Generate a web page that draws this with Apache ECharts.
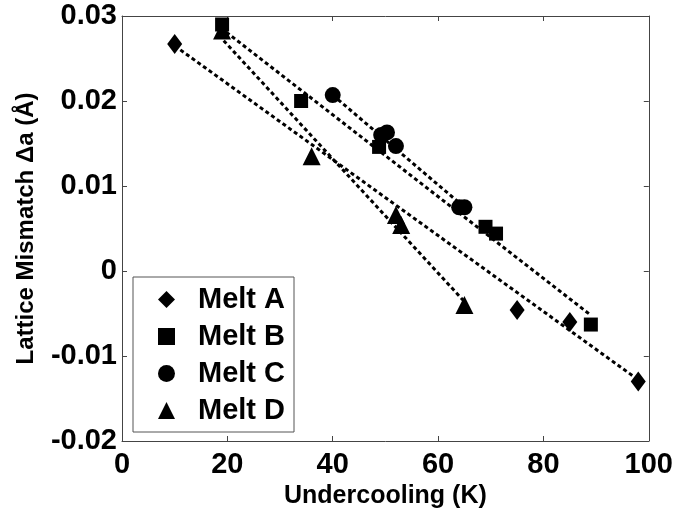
<!DOCTYPE html>
<html>
<head>
<meta charset="utf-8">
<script src="https://cdn.jsdelivr.net/npm/echarts@6/dist/echarts.min.js"></script>
<style>
  html, body { margin: 0; padding: 0; background: #fff; }
  #chart { width: 676px; height: 514px; }
</style>
</head>
<body>
<div id="chart"></div>
<script>
// measured points [undercooling K, lattice mismatch]
var meltA = [[10, 0.0267], [75, -0.0046], [85, -0.0060], [98, -0.0130]]
var meltB = [[19, 0.0290], [34, 0.0200], [48.8, 0.0146], [69, 0.0052], [71, 0.0044], [89, -0.0063]]
var meltC = [[40, 0.0207], [49.2, 0.0160], [50.3, 0.0163], [52, 0.0147], [64, 0.0075], [65, 0.0075]]
var meltD = [[19, 0.0283], [36, 0.0135], [52, 0.0066], [53, 0.0054], [65, -0.0040]]

// dashed fit lines (end points)
var fitA = [[10, 0.0265], [98, -0.0128]]
var fitB = [[19.8, 0.0281], [89, -0.0052]]
var fitC = [[40, 0.0207], [65, 0.0075]]
var fitD = [[19.3, 0.0271], [65, -0.0036]]

var xTickLabels = ['0', '20', '40', '60', '80', '100']
var yTickLabels = ['-0.02', '-0.01', '0', '0.01', '0.02', '0.03']

var chart = echarts.init(document.getElementById('chart'))

var font = 'Liberation Sans, Arial, sans-serif'
var axisColor = '#444'

function xLabel (v) {
  return xTickLabels[Math.round(v / 20)]
}
function yLabel (v) {
  return yTickLabels[Math.round((v + 0.02) / 0.01)]
}

function fitSeries (name, data) {
  return {
    name: name,
    type: 'line',
    data: data,
    symbol: 'none',
    silent: true,
    z: 1,
    lineStyle: { color: '#000', width: 3, type: [4, 3] }
  }
}

function meltSeries (name, data, symbol, size) {
  return {
    name: name,
    type: 'scatter',
    data: data,
    symbol: symbol,
    symbolSize: size,
    z: 3,
    itemStyle: { color: '#000', opacity: 1 }
  }
}

var baseX = {
  type: 'value',
  min: 0,
  max: 100,
  interval: 20,
  axisLine: { show: true, onZero: false, lineStyle: { color: axisColor, width: 1 } },
  axisTick: { show: true, inside: true, length: 5, lineStyle: { color: axisColor } },
  splitLine: { show: false }
}
var baseY = {
  type: 'value',
  min: -0.02,
  max: 0.03,
  interval: 0.01,
  axisLine: { show: true, onZero: false, lineStyle: { color: axisColor, width: 1 } },
  axisTick: { show: true, inside: true, length: 5, lineStyle: { color: axisColor } },
  splitLine: { show: false }
}

chart.setOption({
  animation: false,
  backgroundColor: '#fff',
  grid: { left: 122, right: 27, top: 16, bottom: 73 },
  legend: {
    data: ['Melt A', 'Melt B', 'Melt C', 'Melt D'],
    orient: 'vertical',
    left: 133,
    top: 277,
    padding: [8, 9, 7, 25],
    itemGap: 8,
    itemWidth: 17,
    itemHeight: 17,
    borderColor: '#555',
    borderWidth: 1,
    textStyle: { fontFamily: font, fontWeight: 'bold', fontSize: 29, color: '#000', padding: [0, 0, 0, 18] }
  },
  xAxis: [
    Object.assign({}, baseX, {
      position: 'bottom',
      name: 'Undercooling (K)',
      nameLocation: 'middle',
      nameGap: 38,
      nameTextStyle: { fontFamily: font, fontWeight: 'bold', fontSize: 25, color: '#000' },
      axisLabel: { formatter: xLabel, fontFamily: font, fontWeight: 'bold', fontSize: 29, color: '#000', margin: 9 }
    }),
    Object.assign({}, baseX, { position: 'top', axisLabel: { show: false } })
  ],
  yAxis: [
    Object.assign({}, baseY, {
      position: 'left',
      name: 'Lattice Mismatch \u0394a (\u00c5)',
      nameLocation: 'middle',
      nameGap: 84,
      nameTextStyle: { fontFamily: font, fontWeight: 'bold', fontSize: 24, color: '#000' },
      axisLabel: { formatter: yLabel, fontFamily: font, fontWeight: 'bold', fontSize: 29, color: '#000', margin: 5 }
    }),
    Object.assign({}, baseY, { position: 'right', axisLabel: { show: false } })
  ],
  series: [
    fitSeries('fit A', fitA),
    fitSeries('fit B', fitB),
    fitSeries('fit C', fitC),
    fitSeries('fit D', fitD),
    meltSeries('Melt A', meltA, 'diamond', [15, 20]),
    meltSeries('Melt B', meltB, 'rect', 14),
    meltSeries('Melt C', meltC, 'circle', 16),
    meltSeries('Melt D', meltD, 'triangle', 18)
  ]
})
</script>
</body>
</html>
